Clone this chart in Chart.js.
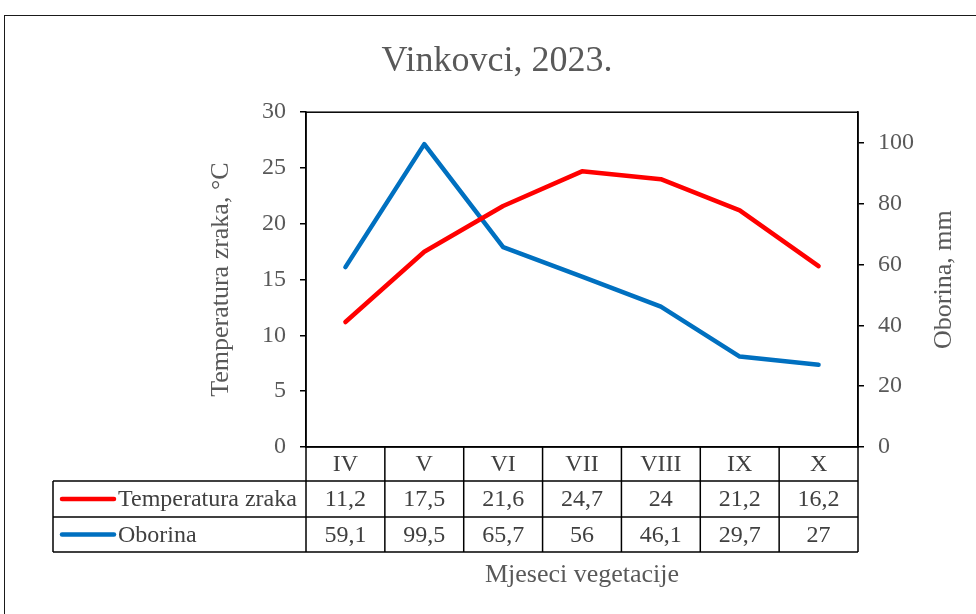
<!DOCTYPE html>
<html>
<head>
<meta charset="utf-8">
<script src="https://cdn.jsdelivr.net/npm/chart.js@4/dist/chart.umd.min.js"></script>
<style>
  html, body { margin: 0; padding: 0; background: #ffffff; }
  #wrap { width: 976px; height: 614px; }
</style>
</head>
<body>
<div id="wrap"><canvas id="c" width="976" height="614"></canvas></div>
<script>
// ---- data ----
const categories = ['IV', 'V', 'VI', 'VII', 'VIII', 'IX', 'X'];
const temperatura = [11.2, 17.5, 21.6, 24.7, 24, 21.2, 16.2];
const oborina = [59.1, 99.5, 65.7, 56, 46.1, 29.7, 27];
const leftTicks = [0, 5, 10, 15, 20, 25, 30];
const rightTicks = [0, 20, 40, 60, 80, 100];
const rightTitle = 'Oborina, mm';

const FONT = "'Liberation Serif', 'Times New Roman', serif";
const TXT = '#595959';
const TABLE_TXT = '#404040';

const fmt = v => String(v).replace('.', ',');

const tablePlugin = {
  id: 'dataTable',
  beforeDraw(chart) {
    const ctx = chart.ctx;
    ctx.save();
    ctx.fillStyle = '#ffffff';
    ctx.fillRect(0, 0, chart.width, chart.height);
    ctx.strokeStyle = '#1a1a1a';
    ctx.lineWidth = 1;
    ctx.strokeRect(4.5, 15.5, chart.width + 20, chart.height + 20);
    ctx.restore();
  },
  beforeDatasetsDraw(chart) {
    const {ctx, chartArea: a} = chart;
    ctx.save();
    ctx.strokeStyle = '#000000';
    ctx.lineWidth = 1.5;
    ctx.strokeRect(a.left, a.top, a.right - a.left, a.bottom - a.top);
    ctx.restore();
  },
  afterDraw(chart) {
    const {ctx, chartArea: a} = chart;
    const xs = chart.scales.x;
    const y1s = chart.scales.y1;
    const n = categories.length;
    const colW = (a.right - a.left) / n;
    const yHead = a.bottom, yR1 = a.bottom + 34, yR2 = a.bottom + 70, yEnd = a.bottom + 105;
    const leftEdge = 53;
    ctx.save();
    // right axis title, reading bottom to top
    ctx.save();
    ctx.font = '26px ' + FONT;
    ctx.fillStyle = TXT;
    ctx.textAlign = 'center';
    ctx.textBaseline = 'middle';
    ctx.translate(y1s.right - 32, (a.top + a.bottom) / 2);
    ctx.rotate(-Math.PI / 2);
    ctx.fillText(rightTitle, 0, 0);
    ctx.restore();

    ctx.strokeStyle = '#000000';
    ctx.lineWidth = 1.5;
    const hline = (x1, x2, y) => { ctx.beginPath(); ctx.moveTo(x1, y); ctx.lineTo(x2, y); ctx.stroke(); };
    const vline = (x, y1, y2) => { ctx.beginPath(); ctx.moveTo(x, y1); ctx.lineTo(x, y2); ctx.stroke(); };
    hline(leftEdge, a.right, yR1);
    hline(leftEdge, a.right, yR2);
    hline(leftEdge, a.right, yEnd);
    vline(leftEdge, yR1, yEnd);
    for (let i = 0; i <= n; i++) {
      const x = i < n ? xs.getPixelForValue(i) - colW / 2 : xs.getPixelForValue(n - 1) + colW / 2;
      vline(x, yHead, yEnd);
    }
    ctx.font = '24px ' + FONT;
    ctx.fillStyle = TABLE_TXT;
    ctx.textBaseline = 'middle';
    ctx.textAlign = 'center';
    categories.forEach((c, i) => ctx.fillText(c, xs.getPixelForValue(i), (yHead + yR1) / 2 + 1));
    const rows = [
      {ds: chart.data.datasets[0], y: (yR1 + yR2) / 2 + 1},
      {ds: chart.data.datasets[1], y: (yR2 + yEnd) / 2 + 1}
    ];
    rows.forEach(r => {
      ctx.textAlign = 'center';
      ctx.fillStyle = TABLE_TXT;
      r.ds.data.forEach((v, i) => ctx.fillText(fmt(v), xs.getPixelForValue(i), r.y));
      ctx.strokeStyle = r.ds.borderColor;
      ctx.lineWidth = 4.5;
      ctx.lineCap = 'round';
      hline(62, 114, r.y - 1);
      ctx.textAlign = 'left';
      ctx.fillStyle = TABLE_TXT;
      ctx.fillText(r.ds.label, 118, r.y);
    });
    ctx.restore();
  }
};

new Chart(document.getElementById('c'), {
  type: 'line',
  data: {
    labels: categories,
    datasets: [
      { label: 'Temperatura zraka', data: temperatura, yAxisID: 'y', borderColor: '#FF0000', backgroundColor: '#FF0000',
        borderWidth: 4.5, pointRadius: 0, tension: 0, borderCapStyle: 'round', borderJoinStyle: 'round' },
      { label: 'Oborina', data: oborina, yAxisID: 'y1', borderColor: '#0070C0', backgroundColor: '#0070C0',
        borderWidth: 4.5, pointRadius: 0, tension: 0, borderCapStyle: 'round', borderJoinStyle: 'round' }
    ]
  },
  options: {
    responsive: false,
    animation: false,
    devicePixelRatio: 1,
    layout: { padding: { left: 18, right: 0, top: 0, bottom: 0 } },
    plugins: {
      legend: { display: false },
      tooltip: { enabled: false },
      title: {
        display: true,
        text: 'Vinkovci, 2023.',
        color: TXT,
        font: { family: FONT, size: 36, weight: 'normal' },
        padding: { top: 40, bottom: 29 }
      }
    },
    scales: {
      x: {
        offset: true,
        grid: { display: false },
        border: { display: true, color: '#000000', width: 1.5 },
        ticks: { display: false },
        title: { display: true, text: 'Mjeseci vegetacije', color: TXT,
                 font: { family: FONT, size: 26 }, padding: { top: 0, bottom: 23 } },
        afterFit(s) { s.height = 167; }
      },
      y: {
        position: 'left',
        min: 0, max: 30,
        afterBuildTicks(s) { s.ticks = leftTicks.map(v => ({ value: v })); },
        ticks: { color: TXT, font: { family: FONT, size: 24 }, padding: 14 },
        grid: { drawOnChartArea: false, drawTicks: true, tickLength: 6, color: '#000000', lineWidth: 1.5 },
        border: { display: true, color: '#000000', width: 1.5 },
        title: { display: true, text: 'Temperatura zraka, °C', color: TXT,
                 font: { family: FONT, size: 26 }, padding: { top: 188, bottom: 0 } },
        afterFit(s) { s.width = 288; }
      },
      y1: {
        position: 'right',
        min: 0, max: 110,
        afterBuildTicks(s) { s.ticks = rightTicks.map(v => ({ value: v })); },
        ticks: { color: TXT, font: { family: FONT, size: 24 }, padding: 14 },
        grid: { drawOnChartArea: false, drawTicks: true, tickLength: 6, color: '#000000', lineWidth: 1.5 },
        border: { display: true, color: '#000000', width: 1.5 },
        title: { display: false },
        afterFit(s) { s.width = 118; }
      }
    }
  },
  plugins: [tablePlugin]
});
</script>
</body>
</html>
